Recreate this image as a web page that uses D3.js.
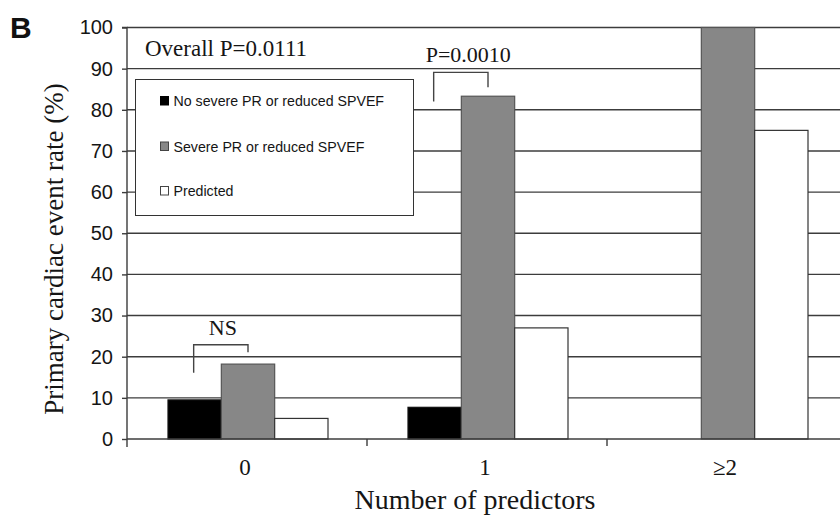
<!DOCTYPE html>
<html>
<head>
<meta charset="utf-8">
<script src="https://cdn.jsdelivr.net/npm/d3@7/dist/d3.min.js"></script>
<style>
  html, body { margin: 0; padding: 0; background: #fff; }
  svg { display: block; }
</style>
</head>
<body>
<svg id="chart" width="840" height="520"></svg>
<script>
// ---- data ----
const categories = ["0", "1", "\u22652"];
const seriesNames = ["No severe PR or reduced SPVEF", "Severe PR or reduced SPVEF", "Predicted"];
const noSevere = [9.5, 7.7, 0];
const severe = [18.2, 83.3, 100];
const predicted = [5.0, 27.0, 75.0];
const yTicks = [0, 10, 20, 30, 40, 50, 60, 70, 80, 90, 100];
// comparison brackets: category, top, left-leg end, right-leg end, label
const bracketCats = ["0", "1"];
const bracketTop = [22.9, 89.1];
const bracketLeftEnd = [16.1, 82.0];
const bracketRightEnd = [21.1, 85.5];
const bracketLabels = ["NS", "P=0.0010"];
const overallLabel = "Overall P=0.0111";

const series = [
  { name: seriesNames[0], values: noSevere, fill: "#000000", stroke: "#111" },
  { name: seriesNames[1], values: severe, fill: "#878787", stroke: "#555" },
  { name: seriesNames[2], values: predicted, fill: "#ffffff", stroke: "#333" }
];

const svg = d3.select("#chart");
const W = 840, H = 520;
const plotLeft = 127, plotBottom = 439, plotTop = 27.5;

const x0 = d3.scaleBand().domain(categories).range([plotLeft, plotLeft + 3 * 240]).padding(0);
const x1 = d3.scaleBand().domain(seriesNames).range([41, 201]).padding(0);
const y = d3.scaleLinear().domain([0, 100]).range([plotBottom, plotTop]);

const serif = "'Liberation Serif', 'Times New Roman', Times, serif";
const sans = "'Liberation Sans', Arial, Helvetica, sans-serif";
const textCol = "#151515";
const lineCol = "#3c3c3c";

// gridlines
svg.append("g").selectAll("line").data(yTicks.filter(d => d > 0)).join("line")
  .attr("x1", plotLeft).attr("x2", W)
  .attr("y1", d => y(d)).attr("y2", d => y(d))
  .attr("stroke", lineCol).attr("stroke-width", 1.4);

// legend box (covers gridlines)
const lg = svg.append("g");
lg.append("rect").attr("x", 135.5).attr("y", 79.5).attr("width", 278).attr("height", 136)
  .attr("fill", "#fff").attr("stroke", "#333").attr("stroke-width", 1);
const legendY = [101, 146.5, 191];
series.forEach((s, i) => {
  lg.append("rect").attr("x", 160.5).attr("y", legendY[i] - 4.5).attr("width", 8).attr("height", 8.5)
    .attr("fill", s.fill).attr("stroke", i === 0 ? "#000" : "#444").attr("stroke-width", 1);
  lg.append("text").attr("x", 173.5).attr("y", legendY[i] + 5)
    .attr("font-family", sans).attr("font-size", 14.2).attr("fill", textCol)
    .text(s.name);
});

// bars
const gBars = svg.append("g");
categories.forEach((c, ci) => {
  series.forEach(s => {
    const v = s.values[ci];
    if (v <= 0) return;
    gBars.append("rect")
      .attr("x", x0(c) + x1(s.name))
      .attr("y", y(v))
      .attr("width", x1.bandwidth())
      .attr("height", y(0) - y(v))
      .attr("fill", s.fill)
      .attr("stroke", s.stroke).attr("stroke-width", 1.2);
  });
});

// y axis
const yAxis = d3.axisLeft(y).tickValues(yTicks).tickSize(5).tickPadding(9).tickFormat(d3.format("d"));
const gy = svg.append("g").attr("transform", `translate(${plotLeft},0)`).call(yAxis);
gy.select(".domain").attr("stroke", lineCol).attr("stroke-width", 1.4).attr("d", `M-5,${plotTop}H0V${plotBottom + 8}`);
gy.selectAll(".tick line").attr("stroke", lineCol).attr("stroke-width", 1.4);
gy.selectAll(".tick text").attr("font-family", "'Liberation Sans Narrow', 'Arial Narrow', " + sans)
  .attr("font-size", 20).attr("fill", textCol);

// x axis
const gx = svg.append("g").attr("transform", `translate(0,${plotBottom})`);
gx.append("line").attr("x1", plotLeft).attr("x2", W).attr("y1", 0).attr("y2", 0)
  .attr("stroke", lineCol).attr("stroke-width", 1.4);
gx.selectAll("line.tk").data(categories).join("line").attr("class", "tk")
  .attr("x1", d => x0(d) + x0.bandwidth()).attr("x2", d => x0(d) + x0.bandwidth())
  .attr("y1", 0).attr("y2", 7).attr("stroke", lineCol).attr("stroke-width", 1.4);
gx.selectAll("text").data(categories).join("text")
  .attr("x", d => x0(d) + x0.bandwidth() / 2 - 2).attr("y", 36)
  .attr("text-anchor", "middle").attr("font-family", serif).attr("font-size", 23)
  .attr("fill", textCol).text(d => d);

// axis titles
svg.append("text").attr("x", 475).attr("y", 509).attr("text-anchor", "middle")
  .attr("font-family", serif).attr("font-size", 28).attr("fill", textCol)
  .text("Number of predictors");
svg.append("text").attr("transform", "translate(63,249) rotate(-90)").attr("text-anchor", "middle")
  .attr("font-family", serif).attr("font-size", 27).attr("fill", textCol)
  .text("Primary cardiac event rate (%)");

// panel letter
svg.append("text").attr("x", 10).attr("y", 38).attr("font-family", sans).attr("font-weight", "bold")
  .attr("font-size", 30).attr("fill", "#111").text("B");

// overall p
svg.append("text").attr("x", 145).attr("y", 56).attr("font-family", serif).attr("font-size", 23)
  .attr("fill", textCol).text(overallLabel);

// brackets
const gBr = svg.append("g");
bracketCats.forEach((c, i) => {
  const xl = x0(c) + x1(seriesNames[0]) + x1.bandwidth() / 2 - 1;
  const xr = x0(c) + x1(seriesNames[1]) + x1.bandwidth() / 2;
  gBr.append("path")
    .attr("d", `M${xl},${y(bracketLeftEnd[i])}V${y(bracketTop[i])}H${xr}V${y(bracketRightEnd[i])}`)
    .attr("fill", "none").attr("stroke", "#444").attr("stroke-width", 1.4);
  const lx = i === 0 ? (xl + xr) / 2 + 2 : xl - 8;
  gBr.append("text").attr("x", lx).attr("y", y(bracketTop[i]) - 10)
    .attr("text-anchor", i === 0 ? "middle" : "start")
    .attr("font-family", serif).attr("font-size", 22).attr("fill", textCol)
    .text(bracketLabels[i]);
});
</script>
</body>
</html>
